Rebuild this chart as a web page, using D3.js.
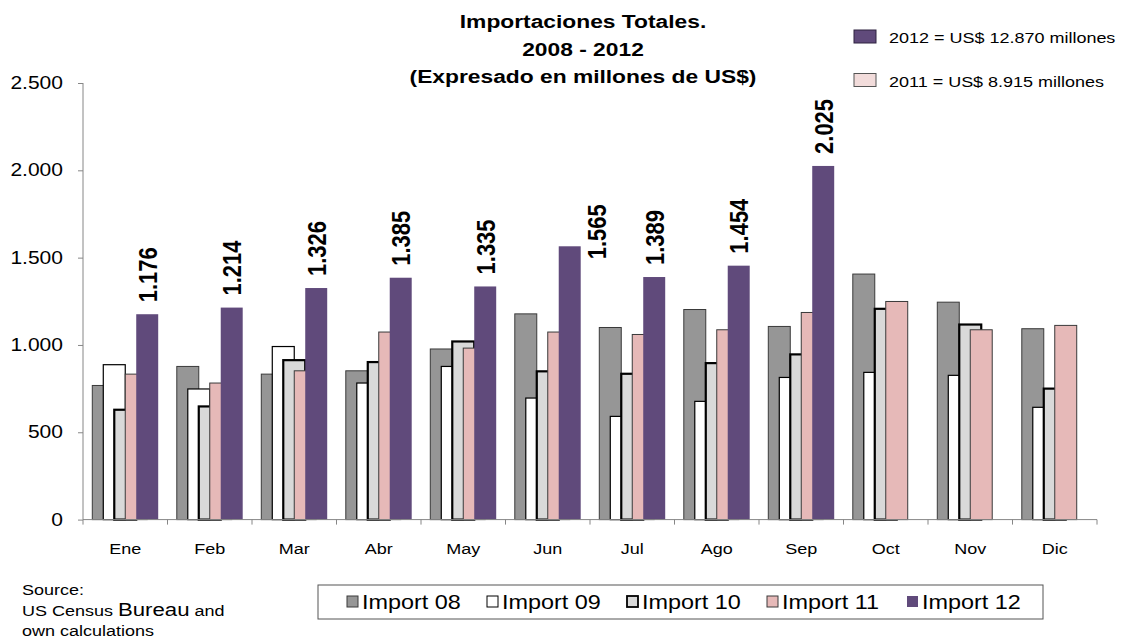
<!DOCTYPE html>
<html>
<head>
<meta charset="utf-8">
<script src="https://cdn.jsdelivr.net/npm/d3@7"></script>
<style>
  body { margin: 0; background: #fff; }
  svg text { font-family: "Liberation Sans", Arial, sans-serif; fill: #000; }
</style>
</head>
<body>
<div id="chart"></div>
<script>
// data (millones de US$)
var months = ["Ene", "Feb", "Mar", "Abr", "May", "Jun", "Jul", "Ago", "Sep", "Oct", "Nov", "Dic"];
var seriesNames = ["Import 08", "Import 09", "Import 10", "Import 11", "Import 12"];
var import08 = [768, 877, 833, 852, 977, 1178, 1100, 1203, 1106, 1406, 1245, 1093];
var import09 = [887, 748, 991, 782, 877, 696, 591, 677, 814, 843, 826, 643];
var import10 = [629, 648, 913, 902, 1020, 849, 835, 896, 946, 1207, 1117, 750];
var import11 = [833, 782, 852, 1074, 982, 1074, 1060, 1087, 1186, 1249, 1087, 1112];
var import12 = [1176, 1214, 1326, 1385, 1335, 1565, 1389, 1454, 2025, null, null, null];
var yTicks = [0, 500, 1000, 1500, 2000, 2500];
var titleLines = ["Importaciones Totales.", "2008 - 2012", "(Expresado en millones de US$)"];
var totalsLegend = ["2012 = US$ 12.870 millones", "2011 = US$ 8.915 millones"];

var W = 1121, H = 643;
var SX = 1.2; // the picture is stretched sideways, text too

var svg = d3.select("#chart").append("svg")
    .attr("width", W)
    .attr("height", H);

var x = d3.scaleBand()
    .domain(months)
    .range([83, 1097])
    .padding(0);
var y = d3.scaleLinear()
    .domain([0, 2500])
    .range([519.6, 83]);

var barW = x.bandwidth() * 0.26;
var xs = d3.scalePoint()
    .domain(seriesNames)
    .range([0, 2 * barW]);

var fmt = d3.formatLocale({decimal: ",", thousands: ".", grouping: [3], currency: ["", ""]}).format(",d");

var styles = {
  "Import 08": {fill: "#969696", stroke: "#3a3a3a", sw: 1},
  "Import 09": {fill: "#ffffff", stroke: "#000000", sw: 1.2},
  "Import 10": {fill: "#d9d9d9", stroke: "#000000", sw: 2.2},
  "Import 11": {fill: "#e6b9b8", stroke: "#3a3a3a", sw: 1},
  "Import 12": {fill: "#604a7b", stroke: "none", sw: 0}
};

var allSeries = [import08, import09, import10, import11, import12];
var table = seriesNames.map(function(s, i) {
  return {name: s, values: months.map(function(m, j) { return {month: m, v: allSeries[i][j]}; })};
});

// stretched text helper
function label(g, px, py, str, size, weight, anchor) {
  return g.append("text")
    .attr("transform", "translate(" + px + "," + py + ") scale(" + SX + ",1)")
    .attr("text-anchor", anchor || "start")
    .style("font-size", size + "px")
    .style("font-weight", weight || "normal")
    .text(str);
}

// bars, later series on top
var groups = svg.selectAll(".series")
    .data(table)
    .enter().append("g")
    .attr("class", "series");

groups.selectAll("rect")
    .data(function(d) { return d.values.filter(function(p) { return p.v != null; }).map(function(p) { p.name = d.name; return p; }); })
    .enter().append("rect")
    .attr("x", function(d) { return x(d.month) + (x.bandwidth() - 3 * barW) / 2 + xs(d.name); })
    .attr("y", function(d) { return y(d.v); })
    .attr("width", barW)
    .attr("height", function(d) { return y(0) - y(d.v); })
    .attr("fill", function(d) { return styles[d.name].fill; })
    .attr("stroke", function(d) { return styles[d.name].stroke; })
    .attr("stroke-width", function(d) { return styles[d.name].sw; });

// axes
var yAxis = svg.append("g")
    .attr("transform", "translate(83,0)")
    .call(d3.axisLeft(y).tickValues(yTicks).tickFormat(fmt).tickSize(5).tickPadding(11.7));
yAxis.select(".domain").attr("stroke", "#868686").attr("d", "M0," + y(2500) + "V" + y(0));
yAxis.selectAll(".tick line").attr("stroke", "#868686");
yAxis.selectAll("text")
    .attr("transform", "scale(" + SX + ",1)")
    .style("font-size", "17.5px")
    .attr("fill", "#000");

var xAxis = svg.append("g")
    .attr("transform", "translate(0," + y(0) + ")")
    .call(d3.axisBottom(x).tickSize(0).tickPadding(24));
xAxis.select(".domain").attr("stroke", "#868686").attr("d", "M83,0H1097");
xAxis.selectAll("text")
    .attr("transform", "scale(" + SX + ",1)")
    .style("font-size", "15px")
    .attr("fill", "#000");
xAxis.selectAll(".bound")
    .data(months.concat(["end"]))
    .enter().append("line")
    .attr("class", "bound")
    .attr("x1", function(d) { return d === "end" ? x.range()[1] : x(d); })
    .attr("x2", function(d) { return d === "end" ? x.range()[1] : x(d); })
    .attr("y1", 0)
    .attr("y2", 5)
    .attr("stroke", "#868686");

// value labels on 2012 bars
var nudge = {Jun: [27, 25]};
svg.selectAll(".vlabel")
    .data(table[4].values.filter(function(d) { return d.v != null; }))
    .enter().append("text")
    .attr("class", "vlabel")
    .attr("transform", function(d) {
      var n = nudge[d.month] || [0, 0];
      var cx = x(d.month) + (x.bandwidth() - 3 * barW) / 2 + xs("Import 12") + barW / 2 + n[0];
      var cy = y(d.v) - 12 + n[1];
      return "translate(" + cx + "," + cy + ") scale(" + SX + ",1) rotate(-90)";
    })
    .attr("dy", "0.36em")
    .style("font-size", "22px")
    .style("font-weight", "bold")
    .text(function(d) { return fmt(d.v); });

// title
titleLines.forEach(function(t, i) {
  label(svg, 583, 28 + i * 27.6, t, 19, "bold", "middle");
});

// totals legend top right
var totFills = [["#604a7b", "#2e2340"], ["#f2dcdb", "#555"]];
totalsLegend.forEach(function(t, i) {
  svg.append("rect")
    .attr("x", 854).attr("y", 30 + i * 43.5)
    .attr("width", 22).attr("height", 13)
    .attr("fill", totFills[i][0])
    .attr("stroke", totFills[i][1]);
  label(svg, 889, 43 + i * 43.5, t, 15);
});

// series legend
var leg = svg.append("g");
leg.append("rect")
    .attr("x", 318).attr("y", 585)
    .attr("width", 725).attr("height", 34)
    .attr("fill", "#fff")
    .attr("stroke", "#555");
seriesNames.forEach(function(s, i) {
  var lx = 347 + i * 140;
  leg.append("rect")
    .attr("x", lx).attr("y", 596)
    .attr("width", 11).attr("height", 11)
    .attr("fill", styles[s].fill)
    .attr("stroke", s === "Import 12" ? "none" : styles[s].stroke)
    .attr("stroke-width", s === "Import 10" ? 1.8 : 1);
  label(leg, lx + 15, 609, s, 19.5);
});

// source note
var src = svg.append("text")
    .attr("transform", "translate(22,0) scale(" + SX + ",1)")
    .style("font-size", "15px");
src.append("tspan").attr("x", 0).attr("y", 595).text("Source:");
var l2 = src.append("tspan").attr("x", 0).attr("y", 616);
l2.append("tspan").text("US Census ");
l2.append("tspan").style("font-size", "18.5px").text("Bureau");
l2.append("tspan").text(" and");
src.append("tspan").attr("x", 0).attr("y", 636).text("own calculations");
</script>
</body>
</html>
